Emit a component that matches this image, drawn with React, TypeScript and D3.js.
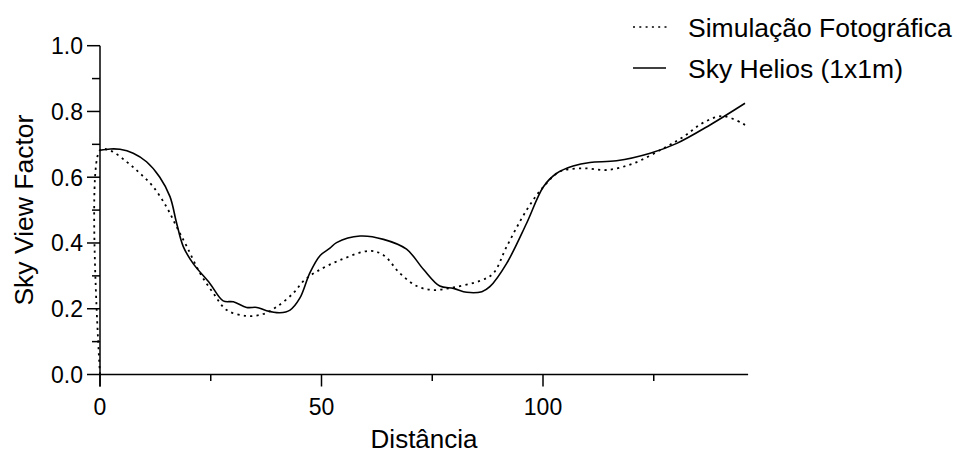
import React from "react";
import * as d3 from "d3";

const simX = [0, 0, 2.3, 6, 9, 12, 15, 17.3, 19.6, 22.6, 25.6, 28.6, 33.1, 36.9, 39.9, 43.6, 46, 48.9, 54.2, 60.9, 64, 67.7, 71.5, 75.2, 79.8, 85.8, 88.8, 91.8, 96.3, 100.1, 103.8, 109.1, 114.4, 120.4, 127.2, 131.7, 136.2, 140.7, 145.6];
const simY = [0, 0.682, 0.681, 0.647, 0.612, 0.571, 0.51, 0.449, 0.389, 0.308, 0.247, 0.196, 0.178, 0.184, 0.206, 0.247, 0.285, 0.313, 0.348, 0.376, 0.363, 0.308, 0.269, 0.257, 0.265, 0.285, 0.308, 0.389, 0.5, 0.571, 0.617, 0.627, 0.622, 0.642, 0.688, 0.723, 0.766, 0.786, 0.759];

const helX = [0, 2.3, 4.5, 7.5, 10.5, 13.5, 15.8, 17.3, 18.8, 21, 24.8, 27.8, 30.1, 33.1, 35.4, 37.6, 40.6, 42.9, 45.1, 47.4, 49.7, 51.9, 53.4, 58.7, 64, 69.2, 73, 76.7, 79.8, 82.8, 86.2, 88, 91.8, 96.3, 100.1, 103.1, 106.8, 110.6, 116.6, 124.2, 130.2, 137.7, 145.6];
const helY = [0.682, 0.686, 0.685, 0.673, 0.647, 0.6, 0.541, 0.46, 0.389, 0.338, 0.277, 0.224, 0.221, 0.204, 0.204, 0.194, 0.188, 0.196, 0.232, 0.31, 0.362, 0.384, 0.401, 0.421, 0.411, 0.381, 0.32, 0.269, 0.262, 0.25, 0.252, 0.267, 0.338, 0.46, 0.571, 0.612, 0.634, 0.645, 0.65, 0.673, 0.703, 0.759, 0.825];

const xMajor = [0, 50, 100];
const xMinor = [25, 75, 125];
const yMajor = [0, 0.2, 0.4, 0.6, 0.8, 1.0];
const yMinor = [0.1, 0.3, 0.5, 0.7, 0.9];

const legendLabels = ["Simulação Fotográfica", "Sky Helios (1x1m)"];
const xTitle = "Distância";
const yTitle = "Sky View Factor";

const FONT = "'Liberation Sans', Arial, Helvetica, sans-serif";

export default function App() {
  const x = d3.scaleLinear().domain([0, 100]).range([100, 543]);
  const y = d3.scaleLinear().domain([0, 1]).range([374.5, 45.7]);
  const xEnd = 146.3;

  const sim = simX.map((v, i) => [v, simY[i]] as [number, number]);
  const hel = helX.map((v, i) => [v, helY[i]] as [number, number]);
  const line = d3
    .line<[number, number]>()
    .x((d) => x(d[0]))
    .y((d) => y(d[1]))
    .curve(d3.curveCatmullRom.alpha(0.5));

  const x0 = x(0);
  const y0 = y(0);

  return (
    <svg
      width={960}
      height={453}
      style={{ position: "absolute", left: 0, top: 0, background: "#fff" }}
      fontFamily={FONT}
    >
      <rect width={960} height={453} fill="#fff" />
      {/* series */}
      <path d={line(hel) || ""} fill="none" stroke="#000" strokeWidth={1.6} />
      <path
        d={line(sim) || ""}
        fill="none"
        stroke="#000"
        strokeWidth={1.8}
        strokeDasharray="2.2,4.2"
      />
      {/* y axis */}
      <line x1={x0} x2={x0} y1={y(1)} y2={y0 + 12} stroke="#000" strokeWidth={1.5} />
      {yMajor.map((t) => (
        <g key={"ym" + t}>
          <line x1={x0 - 13} x2={x0} y1={y(t)} y2={y(t)} stroke="#000" strokeWidth={1.5} />
          <text x={x0 - 17} y={y(t) + 8.3} textAnchor="end" fontSize={23}>
            {t.toFixed(1)}
          </text>
        </g>
      ))}
      {yMinor.map((t) => (
        <line key={"yn" + t} x1={x0 - 8} x2={x0} y1={y(t)} y2={y(t)} stroke="#000" strokeWidth={1.5} />
      ))}
      {/* x axis */}
      <line x1={x0} x2={x(xEnd)} y1={y0} y2={y0} stroke="#000" strokeWidth={1.5} />
      {xMajor.map((t) => (
        <g key={"xm" + t}>
          <line x1={x(t)} x2={x(t)} y1={y0} y2={y0 + 12} stroke="#000" strokeWidth={1.5} />
          <text x={x(t)} y={415} textAnchor="middle" fontSize={23}>
            {t}
          </text>
        </g>
      ))}
      {xMinor.map((t) => (
        <line key={"xn" + t} x1={x(t)} x2={x(t)} y1={y0} y2={y0 + 6.5} stroke="#000" strokeWidth={1.5} />
      ))}
      {/* titles */}
      <text x={(x0 + x(xEnd)) / 2} y={448} textAnchor="middle" fontSize={26}>
        {xTitle}
      </text>
      <text
        transform={`translate(33, ${(y(0) + y(1)) / 2}) rotate(-90)`}
        textAnchor="middle"
        fontSize={26.5}
      >
        {yTitle}
      </text>
      {/* legend */}
      <line x1={633} x2={667} y1={27} y2={27} stroke="#000" strokeWidth={1.6} strokeDasharray="2,4.3" />
      <text x={688} y={36.5} fontSize={26.5}>
        {legendLabels[0]}
      </text>
      <line x1={633} x2={666} y1={68} y2={68} stroke="#000" strokeWidth={1.6} />
      <text x={688} y={77.5} fontSize={26.5}>
        {legendLabels[1]}
      </text>
    </svg>
  );
}
